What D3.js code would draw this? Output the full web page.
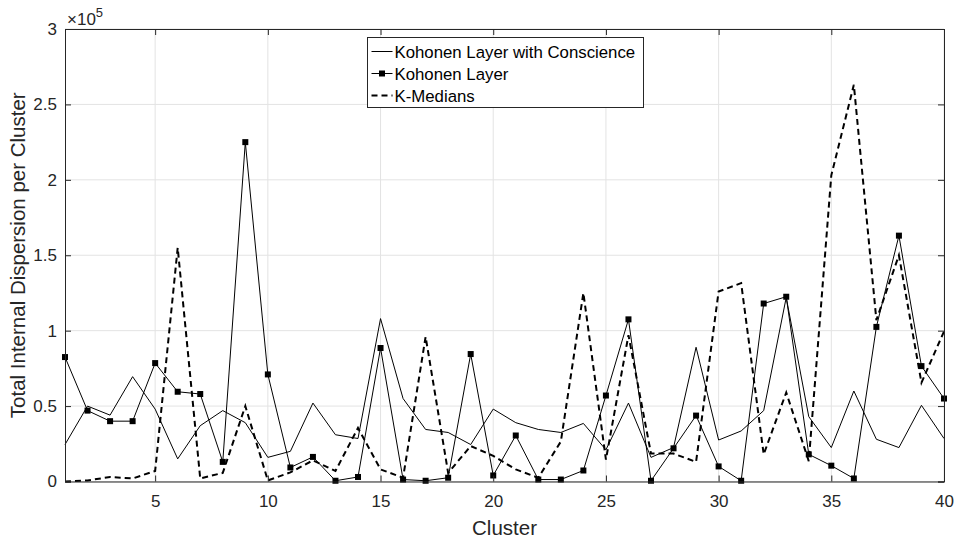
<!DOCTYPE html>
<html>
<head>
<meta charset="utf-8">
<script src="https://cdn.jsdelivr.net/npm/d3@7"></script>
<style>
  body { margin: 0; background: #fff; }
  text { font-family: "Liberation Sans", Arial, Helvetica, sans-serif; }
</style>
</head>
<body>
<svg width="956" height="541"></svg>
<script>
// data (values in raw units, axis shows x10^5)
var clusters = d3.range(1, 41);
var conscience = [24500, 50000, 44000, 69500, 48000, 15000, 37000, 47000, 39000, 16000,
                  20000, 52000, 31000, 28500, 108000, 55000, 34500, 32500, 24500, 48000,
                  39000, 34500, 32500, 38500, 21000, 52000, 16000, 22500, 89000, 27500,
                  33500, 47000, 122000, 43000, 22500, 60000, 28000, 22500, 50500, 28500];
var kohonen = [82500, 47000, 40000, 40000, 78500, 59500, 58000, 13000, 225000, 71000,
               9300, 16300, 500, 3000, 88500, 1300, 500, 2500, 84500, 4000,
               30500, 1300, 1300, 7300, 57000, 107500, 500, 22000, 43700, 10000,
               500, 118000, 122500, 18000, 10500, 2000, 102500, 163000, 76500, 55000];
var kmedians = [0, 700, 3000, 2000, 7000, 155000, 2000, 5700, 50000, 700,
                6000, 14000, 7000, 35500, 8000, 2500, 96000, 5700, 23500, 17000,
                8000, 2500, 26500, 125000, 14500, 97000, 18500, 18500, 13000, 126000,
                131500, 18000, 59000, 13500, 203000, 263000, 107000, 150000, 65500, 99500];
var xTicks = [5, 10, 15, 20, 25, 30, 35, 40];
var yTicks = [0, 50000, 100000, 150000, 200000, 250000, 300000];
var legendNames = ["Kohonen Layer with Conscience", "Kohonen Layer", "K-Medians"];

var margin = { top: 29, right: 11, bottom: 59, left: 65 };
var width = 956, height = 541;
var svg = d3.select("svg");
var axisColor = "#262626";

var x = d3.scaleLinear().domain([1, 40]).range([margin.left, width - margin.right - 1]);
var y = d3.scaleLinear().domain([0, 300000]).range([height - margin.bottom - 0.5, margin.top]);

// grid
svg.append("g").selectAll("line").data(xTicks).enter().append("line")
    .attr("x1", function (d) { return x(d); }).attr("x2", function (d) { return x(d); })
    .attr("y1", y(0)).attr("y2", y(300000))
    .attr("stroke", "#e3e3e3").attr("stroke-width", 1);
svg.append("g").selectAll("line").data(yTicks).enter().append("line")
    .attr("x1", x(1)).attr("x2", x(40))
    .attr("y1", function (d) { return y(d); }).attr("y2", function (d) { return y(d); })
    .attr("stroke", "#e3e3e3").attr("stroke-width", 1);

// lines
var line = function (vals) {
    return d3.line()
        .x(function (d, i) { return x(clusters[i]); })
        .y(function (d) { return y(d); })(vals);
};

svg.append("path").attr("d", line(conscience))
    .attr("fill", "none").attr("stroke", "#000").attr("stroke-width", 1);
svg.append("path").attr("d", line(kmedians))
    .attr("fill", "none").attr("stroke", "#000").attr("stroke-width", 2)
    .attr("stroke-dasharray", "6,4");
svg.append("path").attr("d", line(kohonen))
    .attr("fill", "none").attr("stroke", "#000").attr("stroke-width", 1);
svg.append("g").selectAll("rect").data(kohonen).enter().append("rect")
    .attr("x", function (d, i) { return x(clusters[i]) - 3; })
    .attr("y", function (d) { return y(d) - 3; })
    .attr("width", 6).attr("height", 6).attr("fill", "#000");

// axes (MATLAB box style, ticks inward)
var tickLen = 6;
var xb = d3.axisBottom(x).tickValues(xTicks).tickSize(-tickLen).tickPadding(13);
var yl = d3.axisLeft(y).tickValues(yTicks).tickSize(-tickLen).tickPadding(8)
    .tickFormat(function (d) { return d3.format("")(d / 1e5); });
var xt = d3.axisTop(x).tickValues(xTicks).tickSize(-tickLen).tickFormat("");
var yr = d3.axisRight(y).tickValues(yTicks).tickSize(-tickLen).tickFormat("");

function styleAxis(g) {
    g.select(".domain").attr("stroke", axisColor);
    g.selectAll(".tick line").attr("stroke", axisColor);
    g.selectAll(".tick text").attr("fill", axisColor)
        .style("font-size", "17px")
        .style("font-family", "Liberation Sans, Arial, sans-serif");
}

svg.append("g").attr("transform", "translate(0," + y(0) + ")").call(xb).call(styleAxis);
svg.append("g").attr("transform", "translate(" + x(1) + ",0)").call(yl).call(styleAxis);
svg.append("g").attr("transform", "translate(0," + y(300000) + ")").call(xt).call(styleAxis);
svg.append("g").attr("transform", "translate(" + x(40) + ",0)").call(yr).call(styleAxis);

// exponent label
var ex = svg.append("text").attr("x", x(1) + 2).attr("y", 25)
    .attr("fill", axisColor).style("font-size", "17px");
ex.append("tspan").text("\u00d710");
ex.append("tspan").attr("dy", -8).style("font-size", "13px").text("5");

// axis titles
svg.append("text").attr("x", (x(1) + x(40)) / 2).attr("y", 535)
    .attr("text-anchor", "middle").attr("fill", axisColor)
    .style("font-size", "20.5px").text("Cluster");
svg.append("text")
    .attr("transform", "translate(25," + (y(0) + y(300000)) / 2 + ") rotate(-90)")
    .attr("text-anchor", "middle").attr("fill", axisColor)
    .style("font-size", "20.5px").text("Total Internal Dispersion per Cluster");

// legend
var lg = svg.append("g").attr("transform", "translate(367.5,37.5)");
lg.append("rect").attr("width", 276).attr("height", 70)
    .attr("fill", "#fff").attr("stroke", axisColor).attr("stroke-width", 1);
legendNames.forEach(function (name, i) {
    var cy = 14 + i * 22;
    var l = lg.append("line").attr("x1", 4).attr("x2", 25)
        .attr("y1", cy).attr("y2", cy).attr("stroke", "#000");
    if (i === 2) l.attr("stroke-width", 2).attr("stroke-dasharray", "6,4");
    if (i === 1) lg.append("rect").attr("x", 11.5).attr("y", cy - 3)
        .attr("width", 6).attr("height", 6).attr("fill", "#000");
    lg.append("text").attr("x", 27).attr("y", cy + 6)
        .attr("fill", "#000").style("font-size", "16.8px").text(name);
});
</script>
</body>
</html>
